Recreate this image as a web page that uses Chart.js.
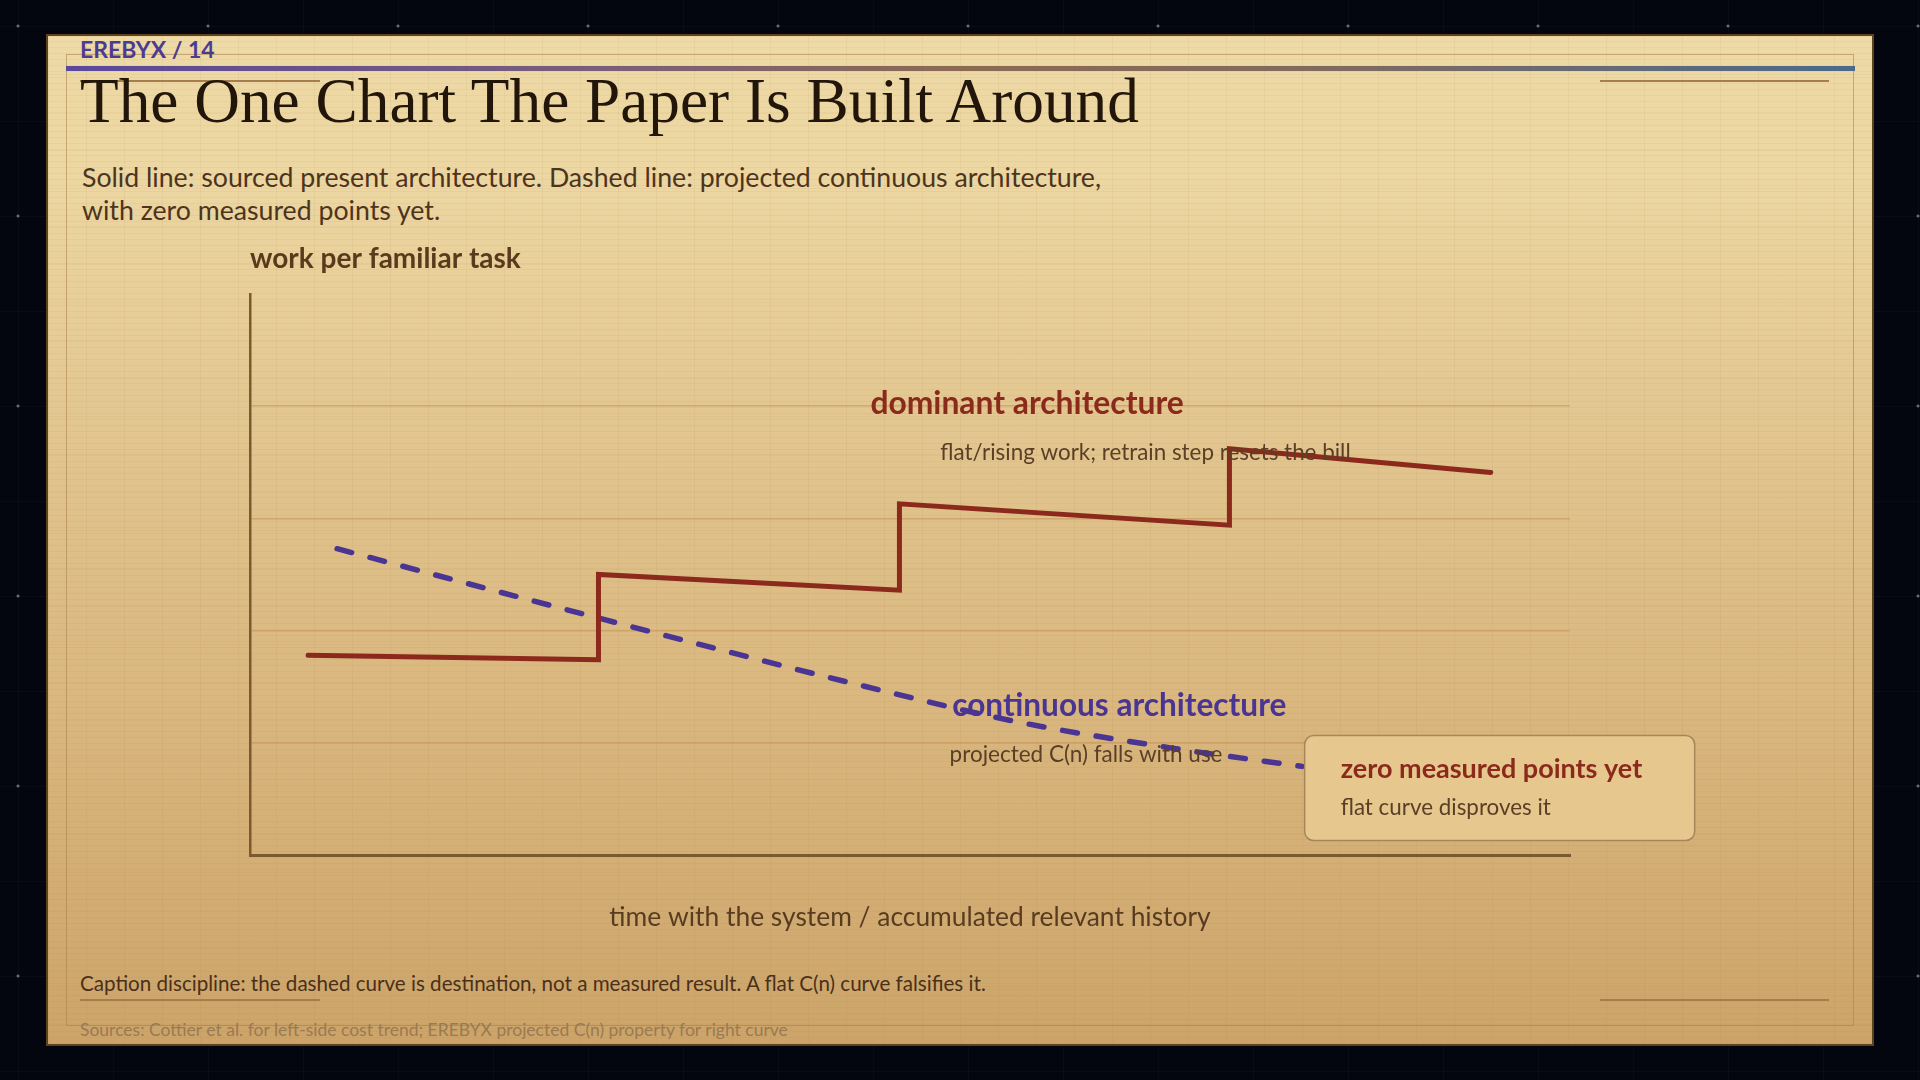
<!DOCTYPE html>
<html><head><meta charset="utf-8">
<script src="https://cdn.jsdelivr.net/npm/chart.js@4.4.1/dist/chart.umd.min.js"></script>
<style>
html,body{margin:0;padding:0;width:1920px;height:1080px;overflow:hidden;background:#03060f;}
#bg{position:absolute;left:0;top:0;width:1920px;height:1080px;
 background-image:
  radial-gradient(circle, rgba(130,140,170,0.75) 1.2px, transparent 1.8px),
  linear-gradient(rgba(60,70,100,0.10) 1px, transparent 1px),
  linear-gradient(90deg, rgba(60,70,100,0.10) 1px, transparent 1px);
 background-size:190px 190px, 95px 95px, 95px 95px;
 background-position:-77px -69px, 0 26px, 18px 0;}
#panel{position:absolute;left:46px;top:34px;width:1824px;height:1008px;border:2px solid #5e421f;
 background:linear-gradient(180deg,#eedaa7 0%,#ecd6a1 15%,#e2c58f 40%,#d8b57c 70%,#cca46a 100%);overflow:hidden;}
#paper{position:absolute;left:0;top:0;width:100%;height:100%;
 background-image:
  repeating-linear-gradient(0deg, rgba(150,110,50,0.07) 0 1px, transparent 1px 6px),
  linear-gradient(90deg, rgba(150,110,50,0.07) 1px, transparent 1px),
  linear-gradient(rgba(150,110,50,0.06) 1px, transparent 1px);
 background-size:auto, 38px 38px, 38px 38px;}
#inner{position:absolute;left:66px;top:54px;width:1786px;height:970px;border:1.5px solid rgba(165,125,70,0.55);}
#rule{position:absolute;left:66px;top:66px;width:1789px;height:5px;
 background:linear-gradient(90deg,#5a489c 0%,#7a5e78 30%,#8c6a52 50%,#7f6a60 72%,#4b6a8b 100%);}
.deco{position:absolute;height:2px;background:#a67e4c;}
.t{position:absolute;white-space:nowrap;margin:0;}
#hdr{left:80px;top:38px;font:700 23px/1 Lato,sans-serif;color:#4b3b93;}
#title{left:80px;top:70px;font:400 63.3px/1 "Liberation Serif",serif;color:#22160b;}
#sub{left:82px;top:161px;font:400 26.7px/32.5px Lato,sans-serif;color:#4e341c;}
#cap{left:80px;top:972.7px;font:400 20.6px/1 Lato,sans-serif;color:#4a3019;}
#src{left:80px;top:1020.5px;font:400 17.5px/1 Lato,sans-serif;color:#9a7a50;}
#c{position:absolute;left:0;top:0;}
</style></head>
<body>
<div id="bg"></div>
<div id="panel"><div id="paper"></div></div>
<div id="inner"></div>
<div id="rule"></div>
<div class="deco" style="left:80px;top:80px;width:240px;"></div>
<div class="deco" style="left:1600px;top:80px;width:229px;"></div>
<div class="deco" style="left:80px;top:999px;width:240px;"></div>
<div class="deco" style="left:1600px;top:999px;width:229px;"></div>
<div class="t" id="hdr">EREBYX / 14</div>
<div class="t" id="title">The One Chart The Paper Is Built Around</div>
<div class="t" id="sub">Solid line: sourced present architecture. Dashed line: projected continuous architecture,<br>with zero measured points yet.</div>
<div class="t" id="cap">Caption discipline: the dashed curve is destination, not a measured result. A flat C(n) curve falsifies it.</div>
<div class="t" id="src">Sources: Cottier et al. for left-side cost trend; EREBYX projected C(n) property for right curve</div>
<canvas id="c" width="1920" height="1080"></canvas>
<script>
// ---- data ----
const dominantX = [4.4, 26.4, 26.4, 49.2, 49.2, 74.2, 74.2, 94.0];
const dominantY = [1.78, 1.74, 2.50, 2.36, 3.13, 2.94, 3.62, 3.41];
const continuousX = [6.6, 20, 33, 46, 58, 70, 79.7];
const continuousY = [2.73, 2.31, 1.91, 1.52, 1.19, 0.95, 0.79];
const yTicks = [0, 1, 2, 3, 4, 5];
const yAxisTitle = 'work per familiar task';
const xAxisTitle = 'time with the system / accumulated relevant history';
const dominantLabel = 'dominant architecture';
const dominantNote = 'flat/rising work; retrain step resets the bill';
const continuousLabel = 'continuous architecture';
const continuousNote = 'projected C(n) falls with use';
const boxTitle = 'zero measured points yet';
const boxNote = 'flat curve disproves it';

const RED = '#8b2a1c', PURPLE = '#4a3592', AXIS = '#7a5a2e', NOTE = '#5a3f26';
const toPts = (xs, ys) => xs.map((x, i) => ({x, y: ys[i]}));

const annot = {
  id: 'annot',
  afterDatasetsDraw(chart) {
    const {ctx, chartArea: a, scales: {x, y}} = chart;
    ctx.save();
    ctx.textBaseline = 'alphabetic';
    ctx.textAlign = 'left';
    // axis titles
    ctx.fillStyle = '#5a3a1c';
    ctx.font = '700 28px Lato, sans-serif';
    ctx.fillText(yAxisTitle, a.left, a.top - 26);
    ctx.fillStyle = '#583c20';
    ctx.font = '400 26.4px Lato, sans-serif';
    ctx.textAlign = 'center';
    ctx.fillText(xAxisTitle, (a.left + a.right) / 2, a.bottom + 71);
    ctx.textAlign = 'left';
    // series labels
    ctx.fillStyle = RED;
    ctx.font = '700 31.8px Lato, sans-serif';
    ctx.fillText(dominantLabel, x.getPixelForValue(47.0), y.getPixelForValue(3.928));
    ctx.fillStyle = NOTE;
    ctx.font = '400 22.4px Lato, sans-serif';
    ctx.fillText(dominantNote, x.getPixelForValue(52.3), y.getPixelForValue(3.52));
    ctx.fillStyle = PURPLE;
    ctx.font = '700 31.6px Lato, sans-serif';
    ctx.fillText(continuousLabel, x.getPixelForValue(53.2), y.getPixelForValue(1.236));
    ctx.fillStyle = NOTE;
    ctx.font = '400 22.5px Lato, sans-serif';
    ctx.fillText(continuousNote, x.getPixelForValue(53.0), y.getPixelForValue(0.83));
    // callout box
    const bx = x.getPixelForValue(79.9), by = y.getPixelForValue(1.065);
    const bw = 390, bh = 105, r = 9;
    ctx.beginPath();
    ctx.moveTo(bx + r, by);
    ctx.arcTo(bx + bw, by, bx + bw, by + bh, r);
    ctx.arcTo(bx + bw, by + bh, bx, by + bh, r);
    ctx.arcTo(bx, by + bh, bx, by, r);
    ctx.arcTo(bx, by, bx + bw, by, r);
    ctx.closePath();
    ctx.fillStyle = '#e6c78d';
    ctx.fill();
    ctx.lineWidth = 1.5;
    ctx.strokeStyle = '#a8865a';
    ctx.stroke();
    ctx.fillStyle = RED;
    ctx.font = '700 27px Lato, sans-serif';
    ctx.fillText(boxTitle, bx + 36, by + 42);
    ctx.fillStyle = NOTE;
    ctx.font = '400 22.4px Lato, sans-serif';
    ctx.fillText(boxNote, bx + 36, by + 79);
    ctx.restore();
  }
};

new Chart(document.getElementById('c'), {
  type: 'line',
  data: {
    datasets: [
      {
        label: dominantLabel,
        data: toPts(dominantX, dominantY),
        borderColor: RED, borderWidth: 5, tension: 0,
        borderJoinStyle: 'miter', borderCapStyle: 'round',
        pointRadius: 0, fill: false
      },
      {
        label: continuousLabel,
        data: toPts(continuousX, continuousY),
        borderColor: PURPLE, borderWidth: 5.5,
        cubicInterpolationMode: 'monotone',
        borderDash: [15, 19], borderCapStyle: 'round',
        pointRadius: 0, fill: false
      }
    ]
  },
  options: {
    responsive: false, animation: false, devicePixelRatio: 1,
    layout: {padding: {left: 250, right: 350, top: 294, bottom: 225}},
    plugins: {legend: {display: false}, tooltip: {enabled: false}, title: {display: false}},
    scales: {
      x: {
        type: 'linear', min: 0, max: 100,
        grid: {display: false, drawTicks: false},
        ticks: {display: false},
        border: {display: true, color: AXIS, width: 3}
      },
      y: {
        type: 'linear', min: 0, max: 5,
        afterBuildTicks: (s) => { s.ticks = yTicks.map(v => ({value: v})); },
        grid: {
          drawTicks: false, lineWidth: 1.5,
          color: (c) => (c.tick && c.tick.value > 0 && c.tick.value < 5) ? 'rgba(196,146,86,0.6)' : 'rgba(0,0,0,0)'
        },
        ticks: {display: false},
        border: {display: true, color: AXIS, width: 2.5}
      }
    }
  },
  plugins: [annot]
});
</script>
</body></html>
